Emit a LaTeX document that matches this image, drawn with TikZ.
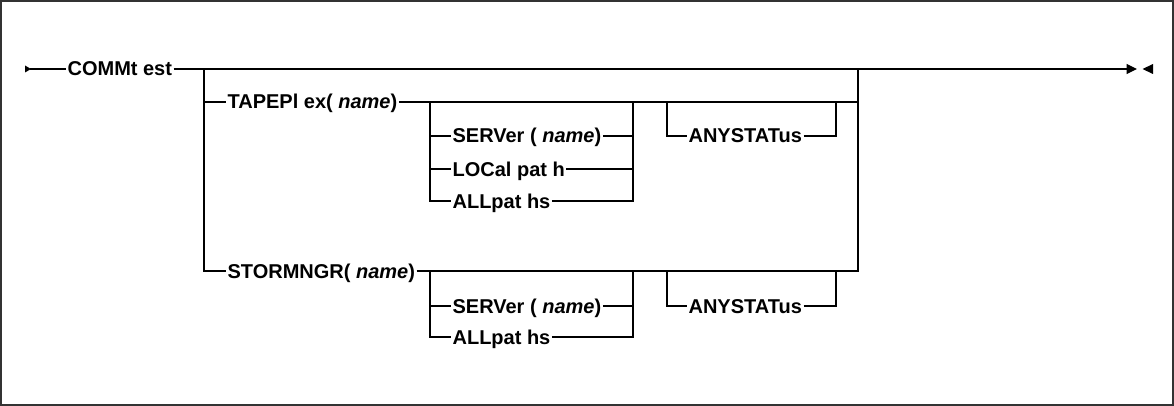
\documentclass[tikz,border=0pt]{standalone}
\usepackage{fontspec}
\setmainfont{Liberation Sans}
\usetikzlibrary{arrows.meta}

\begin{document}
\begin{tikzpicture}[x=1pt, y=-1pt, line width=1.2pt,
    every node/.style={font=\fontsize{20}{24}\selectfont\bfseries},
    kw/.style={anchor=west, inner xsep=1pt, inner ysep=0pt, text height=14pt, text depth=0pt}]
    % Frame
    \useasboundingbox (0,0) rectangle (1174,406);
    \draw[black!80, line width=1.6pt] (1,1) rectangle (1173,405);

    % Main line
    \fill (25,65.5) -- (31,69) -- (25,72.5) -- cycle;
    \coordinate (start) at (30,69);
    \coordinate (stop) at (1137,69);
    \node[kw] (comm) at (66,69) {COMMt est\ };
    \draw (start) -- (comm.west);
    \draw[-{Triangle[length=10.5pt, width=10pt]}] (comm.east) -- (stop);
    \fill (1153,64) -- (1142.5,69) -- (1153,74) -- cycle;

    % Branch: TAPEPlex / STORMNGR
    \coordinate (j1) at (204,69);
    \coordinate (j2) at (858,69);
    \node[kw] (tape) at (226,102) {TAPEPl ex( \textit{name})\ };
    \node[kw] (stor) at (226,271) {STORMNGR( \textit{name})\ };
    \draw (j1) |- (stor.west);
    \draw (j1 |- tape) -- (tape.west);
    \draw (tape.east) -- (j2 |- tape);
    \draw (stor.east) -| (j2);

    % TAPEPlex choices
    \coordinate (aL) at (430,102);
    \coordinate (aR) at (633,102);
    \node[kw] (srvA) at (451,136) {SERVer ( \textit{name})\ };
    \node[kw] (locA) at (451,169) {LOCal pat h};
    \node[kw] (allA) at (451,201) {ALLpat hs};
    \draw (aL) |- (allA.west);
    \draw (aL |- srvA) -- (srvA.west);
    \draw (aL |- locA) -- (locA.west);
    \draw (allA.east) -| (aR);
    \draw (srvA.east) -- (aR |- srvA);
    \draw (locA.east) -- (aR |- locA);

    % TAPEPlex option
    \coordinate (sL) at (667,102);
    \coordinate (sR) at (836,102);
    \node[kw] (anyA) at (687,136) {ANYSTATus};
    \draw (sL) |- (anyA.west);
    \draw (anyA.east) -| (sR);

    % STORMNGR choices
    \coordinate (bL) at (430,271);
    \coordinate (bR) at (633,271);
    \node[kw] (srvB) at (451,306) {SERVer ( \textit{name})\ };
    \node[kw] (allB) at (451,337) {ALLpat hs};
    \draw (bL) |- (allB.west);
    \draw (bL |- srvB) -- (srvB.west);
    \draw (allB.east) -| (bR);
    \draw (srvB.east) -- (bR |- srvB);

    % STORMNGR option
    \coordinate (tL) at (667,271);
    \coordinate (tR) at (836,271);
    \node[kw] (anyB) at (687,306) {ANYSTATus};
    \draw (tL) |- (anyB.west);
    \draw (anyB.east) -| (tR);
\end{tikzpicture}
\end{document}
